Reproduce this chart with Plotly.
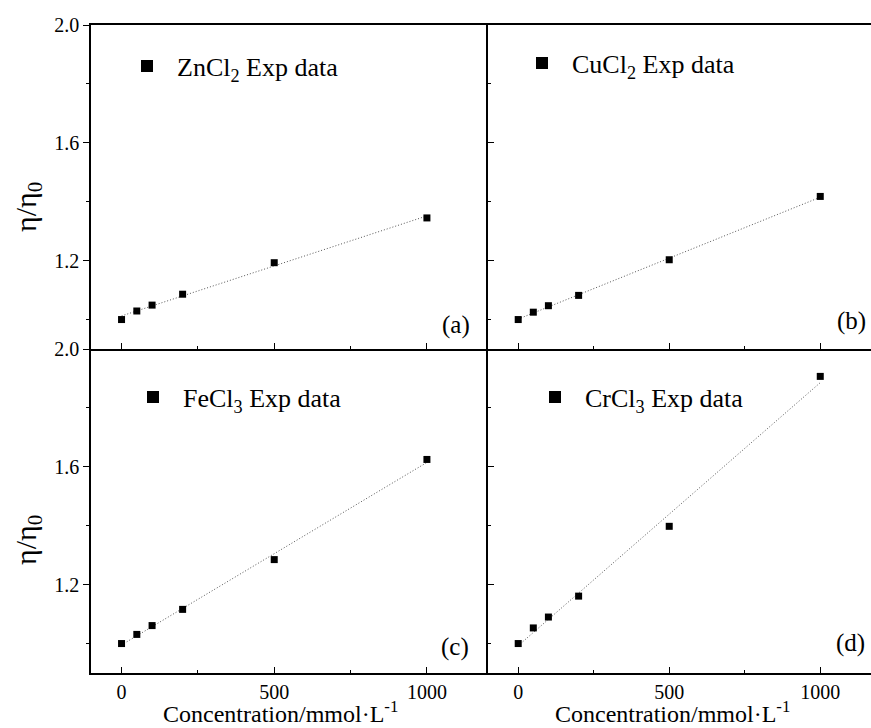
import numpy as np
import plotly.graph_objects as go

# ---- data ----
conc = [0, 50, 100, 200, 500, 1000]
zncl2 = [1.00, 1.029, 1.049, 1.086, 1.193, 1.345]
cucl2 = [1.00, 1.025, 1.047, 1.082, 1.203, 1.418]
fecl3 = [1.00, 1.031, 1.061, 1.116, 1.285, 1.625]
crcl3 = [1.00, 1.053, 1.090, 1.161, 1.398, 1.907]

series_names = ["ZnCl<sub>2</sub> Exp data", "CuCl<sub>2</sub> Exp data",
                "FeCl<sub>3</sub> Exp data", "CrCl<sub>3</sub> Exp data"]
panel_labels = ["(a)", "(b)", "(c)", "(d)"]
x_title = "Concentration/mmol·L<sup>-1</sup>"
y_title = "η/η<sub>0</sub>"

FONT = "Liberation Serif"
W, H = 871, 728
ML, MR, MT, MB = 91, 0, 25, 55
PW, PH = W - ML - MR, H - MT - MB


def px(x):
    return (x - ML) / PW


def py(y):
    return (H - MB - y) / PH


xsplit = px(488)
fig = go.Figure()

all_series = [zncl2, cucl2, fecl3, crcl3]
axes = [("x", "y"), ("x2", "y2"), ("x3", "y3"), ("x4", "y4")]
legends = ["legend", "legend2", "legend3", "legend4"]

for vals, (xa, ya), name, lg in zip(all_series, axes, series_names, legends):
    k, b = np.polyfit(conc, vals, 1)
    xf = np.array([min(conc), max(conc)])
    fig.add_trace(go.Scatter(x=xf, y=k * xf + b, mode="lines",
                             line=dict(color="#555555", width=1, dash="1px,2px"),
                             xaxis=xa, yaxis=ya, showlegend=False, hoverinfo="skip"))
    fig.add_trace(go.Scatter(x=conc, y=vals, mode="markers", name=name,
                             marker=dict(symbol="square", size=7, color="black"),
                             xaxis=xa, yaxis=ya, legend=lg))

line_kw = dict(showline=True, linecolor="black", linewidth=1.5, showgrid=False,
               zeroline=False, tickcolor="black", tickwidth=1.2,
               tickfont=dict(family=FONT, size=20, color="black"))

xcommon = dict(tick0=0, dtick=500, ticks="inside", ticklen=6,
               minor=dict(dtick=250, ticks="inside", ticklen=3, tickcolor="black"),
               **line_kw)
ycommon = dict(range=[0.9, 2.0], tick0=1.2, dtick=0.4, tickformat=".1f", ticklen=6,
               **line_kw)

fig.update_layout(
    xaxis=dict(domain=[0, xsplit], range=[-100, 1200], anchor="y", mirror=True,
               showticklabels=False, **xcommon),
    xaxis2=dict(domain=[xsplit, 1], range=[-100, 1168], anchor="y2", mirror=True,
                showticklabels=False, **xcommon),
    xaxis3=dict(domain=[0, xsplit], range=[-100, 1200], anchor="y3",
                showticklabels=True, **xcommon),
    xaxis4=dict(domain=[xsplit, 1], range=[-100, 1168], anchor="y4",
                showticklabels=True, **xcommon),
    yaxis=dict(domain=[0.5, 1], anchor="x", ticks="outside",
               minor=dict(dtick=0.2, ticks="outside", ticklen=3, tickcolor="black"),
               **ycommon),
    yaxis2=dict(domain=[0.5, 1], anchor="x2", ticks="inside", showticklabels=False,
                minor=dict(dtick=0.2, ticks="inside", ticklen=3, tickcolor="black"),
                **ycommon),
    yaxis3=dict(domain=[0, 0.5], anchor="x3", ticks="outside",
                minor=dict(dtick=0.2, ticks="outside", ticklen=3, tickcolor="black"),
                **ycommon),
    yaxis4=dict(domain=[0, 0.5], anchor="x4", ticks="inside", showticklabels=False,
                minor=dict(dtick=0.2, ticks="inside", ticklen=3, tickcolor="black"),
                **ycommon),
)

leg_pos = [(px(117), py(66)), (px(512), py(63)), (px(123), py(397)), (px(525), py(397))]
for lg, (lx, ly) in zip(legends, leg_pos):
    fig.update_layout(**{lg: dict(x=lx, y=ly, xanchor="left", yanchor="middle",
                                  bgcolor="rgba(0,0,0,0)", itemwidth=50,
                                  itemsizing="constant",
                                  font=dict(family=FONT, size=26, color="black"))})

annotations = []
lab_pos = [(px(472), py(325)), (px(868), py(321)), (px(471), py(647)), (px(867), py(643))]
for lab, (ax_, ay_) in zip(panel_labels, lab_pos):
    annotations.append(dict(text=lab, x=ax_, y=ay_, xref="paper", yref="paper",
                            xanchor="right", yanchor="middle", showarrow=False,
                            font=dict(family=FONT, size=25, color="black")))
for ty in (207, 540):
    annotations.append(dict(text=y_title, x=px(28), y=py(ty), xref="paper", yref="paper",
                            xanchor="center", yanchor="middle", textangle=-90,
                            showarrow=False, font=dict(family=FONT, size=30, color="black")))
for tx in (280, 672):
    annotations.append(dict(text=x_title, x=px(tx), y=py(712), xref="paper", yref="paper",
                            xanchor="center", yanchor="middle", showarrow=False,
                            font=dict(family=FONT, size=24, color="black")))

fig.update_layout(width=W, height=H, margin=dict(l=ML, r=MR, t=MT, b=MB),
                  plot_bgcolor="white", paper_bgcolor="white",
                  annotations=annotations,
                  font=dict(family=FONT, color="black"))

fig.write_html("out.html", config={"displayModeBar": False},
               post_script="document.body.style.margin='0px';document.body.style.overflow='hidden';")
